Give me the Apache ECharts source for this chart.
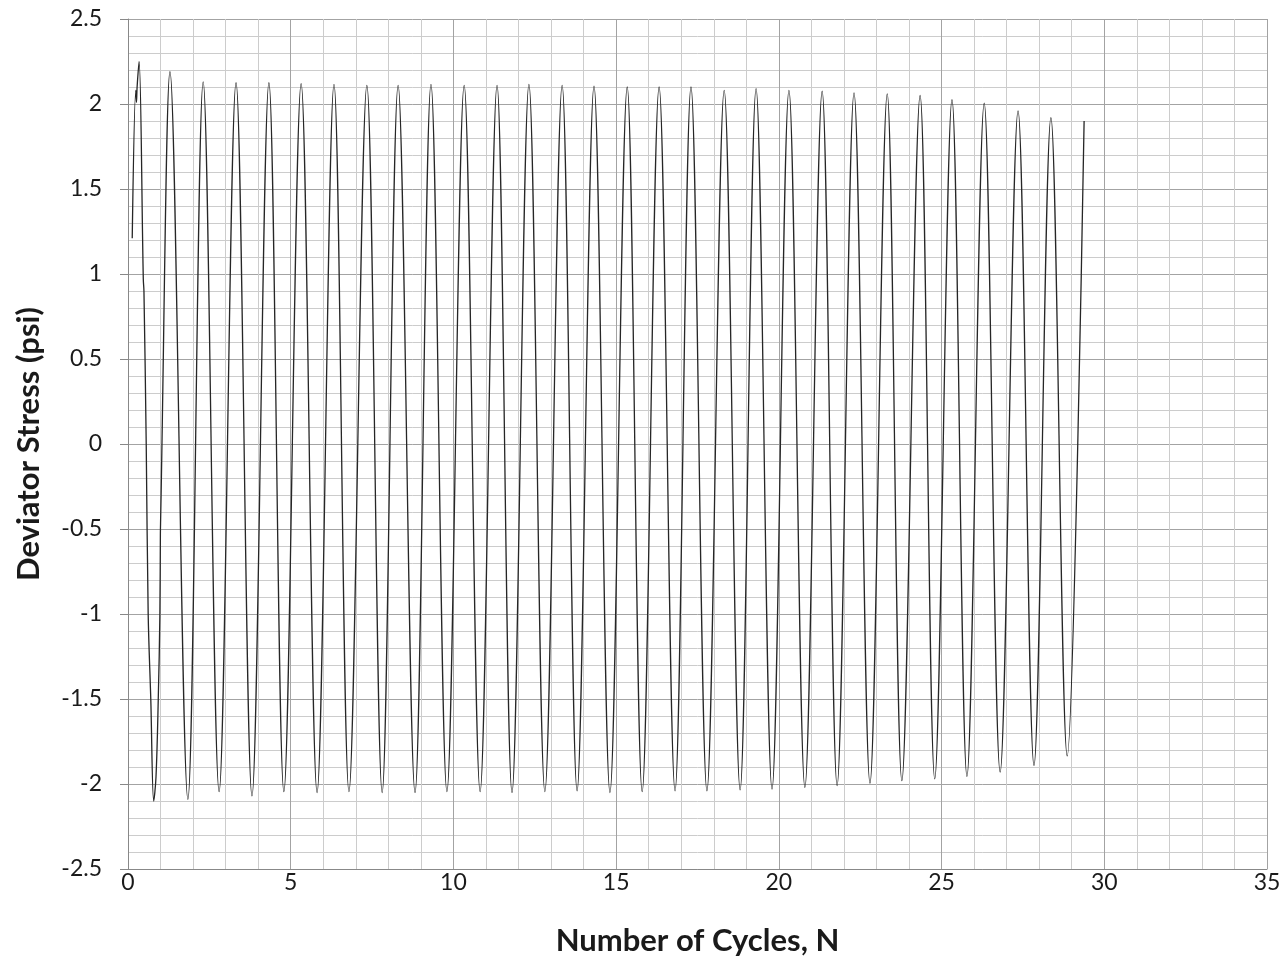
<!DOCTYPE html>
<html>
<head>
<meta charset="utf-8">
<script src="https://cdn.jsdelivr.net/npm/echarts@6/dist/echarts.min.js"></script>
<style>
html,body{margin:0;padding:0;background:#fff;}
#chart{width:1287px;height:975px;}
</style>
</head>
<body>
<div id="chart"></div>
<script>
// Initial loading ramp and irregular first cycle
const rampX = [0.13, 0.24, 0.26, 0.28, 0.47, 0.49, 0.56, 0.62, 0.70, 0.86, 0.93, 0.98, 0.995, 1.00];
const rampY = [1.21, 2.08, 2.01, 2.10, 0.97, 0.90, 0.00, -1.00, -1.50, -1.96, -1.50, -1.00, -0.53, -0.47];

// Peaks of each cycle
const peakX = [0.34, 1.29, 2.31, 3.32, 4.33, 5.32, 6.33, 7.34, 8.30, 9.31, 10.33, 11.34, 12.32, 13.34, 14.32,
               15.34, 16.32, 17.30, 18.32, 19.30, 20.31, 21.33, 22.31, 23.33, 24.34, 25.32, 26.31, 27.35, 28.36];
const peakY = [2.25, 2.19, 2.13, 2.125, 2.125, 2.12, 2.115, 2.11, 2.11, 2.115, 2.11, 2.11, 2.115, 2.11, 2.105,
               2.10, 2.10, 2.10, 2.08, 2.09, 2.08, 2.075, 2.065, 2.06, 2.05, 2.025, 2.005, 1.96, 1.92];

// Troughs of each cycle
const troughX = [0.79, 1.84, 2.80, 3.81, 4.79, 5.81, 6.79, 7.81, 8.82, 9.80, 10.82, 11.80, 12.81, 13.80, 14.81,
                 15.80, 16.81, 17.79, 18.81, 19.79, 20.80, 21.79, 22.80, 23.78, 24.79, 25.78, 26.80, 27.84, 28.86];
const troughY = [-2.10, -2.09, -2.045, -2.07, -2.045, -2.05, -2.045, -2.05, -2.05, -2.045, -2.045, -2.05, -2.045, -2.04, -2.05,
                 -2.045, -2.04, -2.04, -2.035, -2.03, -2.02, -2.01, -1.995, -1.98, -1.97, -1.955, -1.93, -1.89, -1.835];

// Final recorded point
const endX = [29.38];
const endY = [1.90];

const xTicks = [0, 5, 10, 15, 20, 25, 30, 35];
const yTicks = [-2.5, -2, -1.5, -1, -0.5, 0, 0.5, 1, 1.5, 2, 2.5];

const pts = [];
function addPts(xs, ys){ for (let i = 0; i < xs.length; i++) pts.push([xs[i], ys[i]]); }
addPts(rampX, rampY);
addPts(peakX, peakY);
addPts(troughX, troughY);
addPts(endX, endY);
pts.sort((a, b) => a[0] - b[0]);

const FONT = 'Lato';
const chart = echarts.init(document.getElementById('chart'), null, {renderer: 'canvas'});
chart.setOption({
  animation: false,
  backgroundColor: '#ffffff',
  grid: {left: 128, right: 20, top: 19, bottom: 106, containLabel: false},
  xAxis: {
    type: 'value',
    min: xTicks[0], max: xTicks[xTicks.length - 1], interval: 5,
    name: 'Number of Cycles, N',
    nameLocation: 'middle',
    nameGap: 56,
    nameTextStyle: {fontFamily: FONT, fontSize: 31, fontWeight: 'bold', color: '#1a1a1a'},
    axisLine: {show: true, onZero: false, lineStyle: {color: '#888888', width: 1}},
    axisTick: {show: false},
    axisLabel: {fontFamily: FONT, fontSize: 23, color: '#1a1a1a', margin: 2},
    splitLine: {show: true, lineStyle: {color: '#a3a3a3', width: 1}},
    minorTick: {show: false, splitNumber: 5},
    minorSplitLine: {show: true, lineStyle: {color: '#cccccc', width: 1}}
  },
  yAxis: {
    type: 'value',
    min: yTicks[0], max: yTicks[yTicks.length - 1], interval: 0.5,
    name: 'Deviator Stress (psi)',
    nameLocation: 'middle',
    nameGap: 84,
    nameTextStyle: {fontFamily: FONT, fontSize: 31, fontWeight: 'bold', color: '#1a1a1a'},
    axisLine: {show: true, onZero: false, lineStyle: {color: '#888888', width: 1}},
    axisTick: {show: true, length: 8, lineStyle: {color: '#888888', width: 1}},
    axisLabel: {fontFamily: FONT, fontSize: 23, color: '#1a1a1a', margin: 26},
    splitLine: {show: true, lineStyle: {color: '#a3a3a3', width: 1}},
    minorTick: {show: false, splitNumber: 5},
    minorSplitLine: {show: true, lineStyle: {color: '#cccccc', width: 1}}
  },
  series: [{
    type: 'line',
    data: pts,
    showSymbol: false,
    smooth: 0.36,
    lineStyle: {color: '#262626', width: 1.3},
    clip: false
  }]
});
</script>
</body>
</html>
